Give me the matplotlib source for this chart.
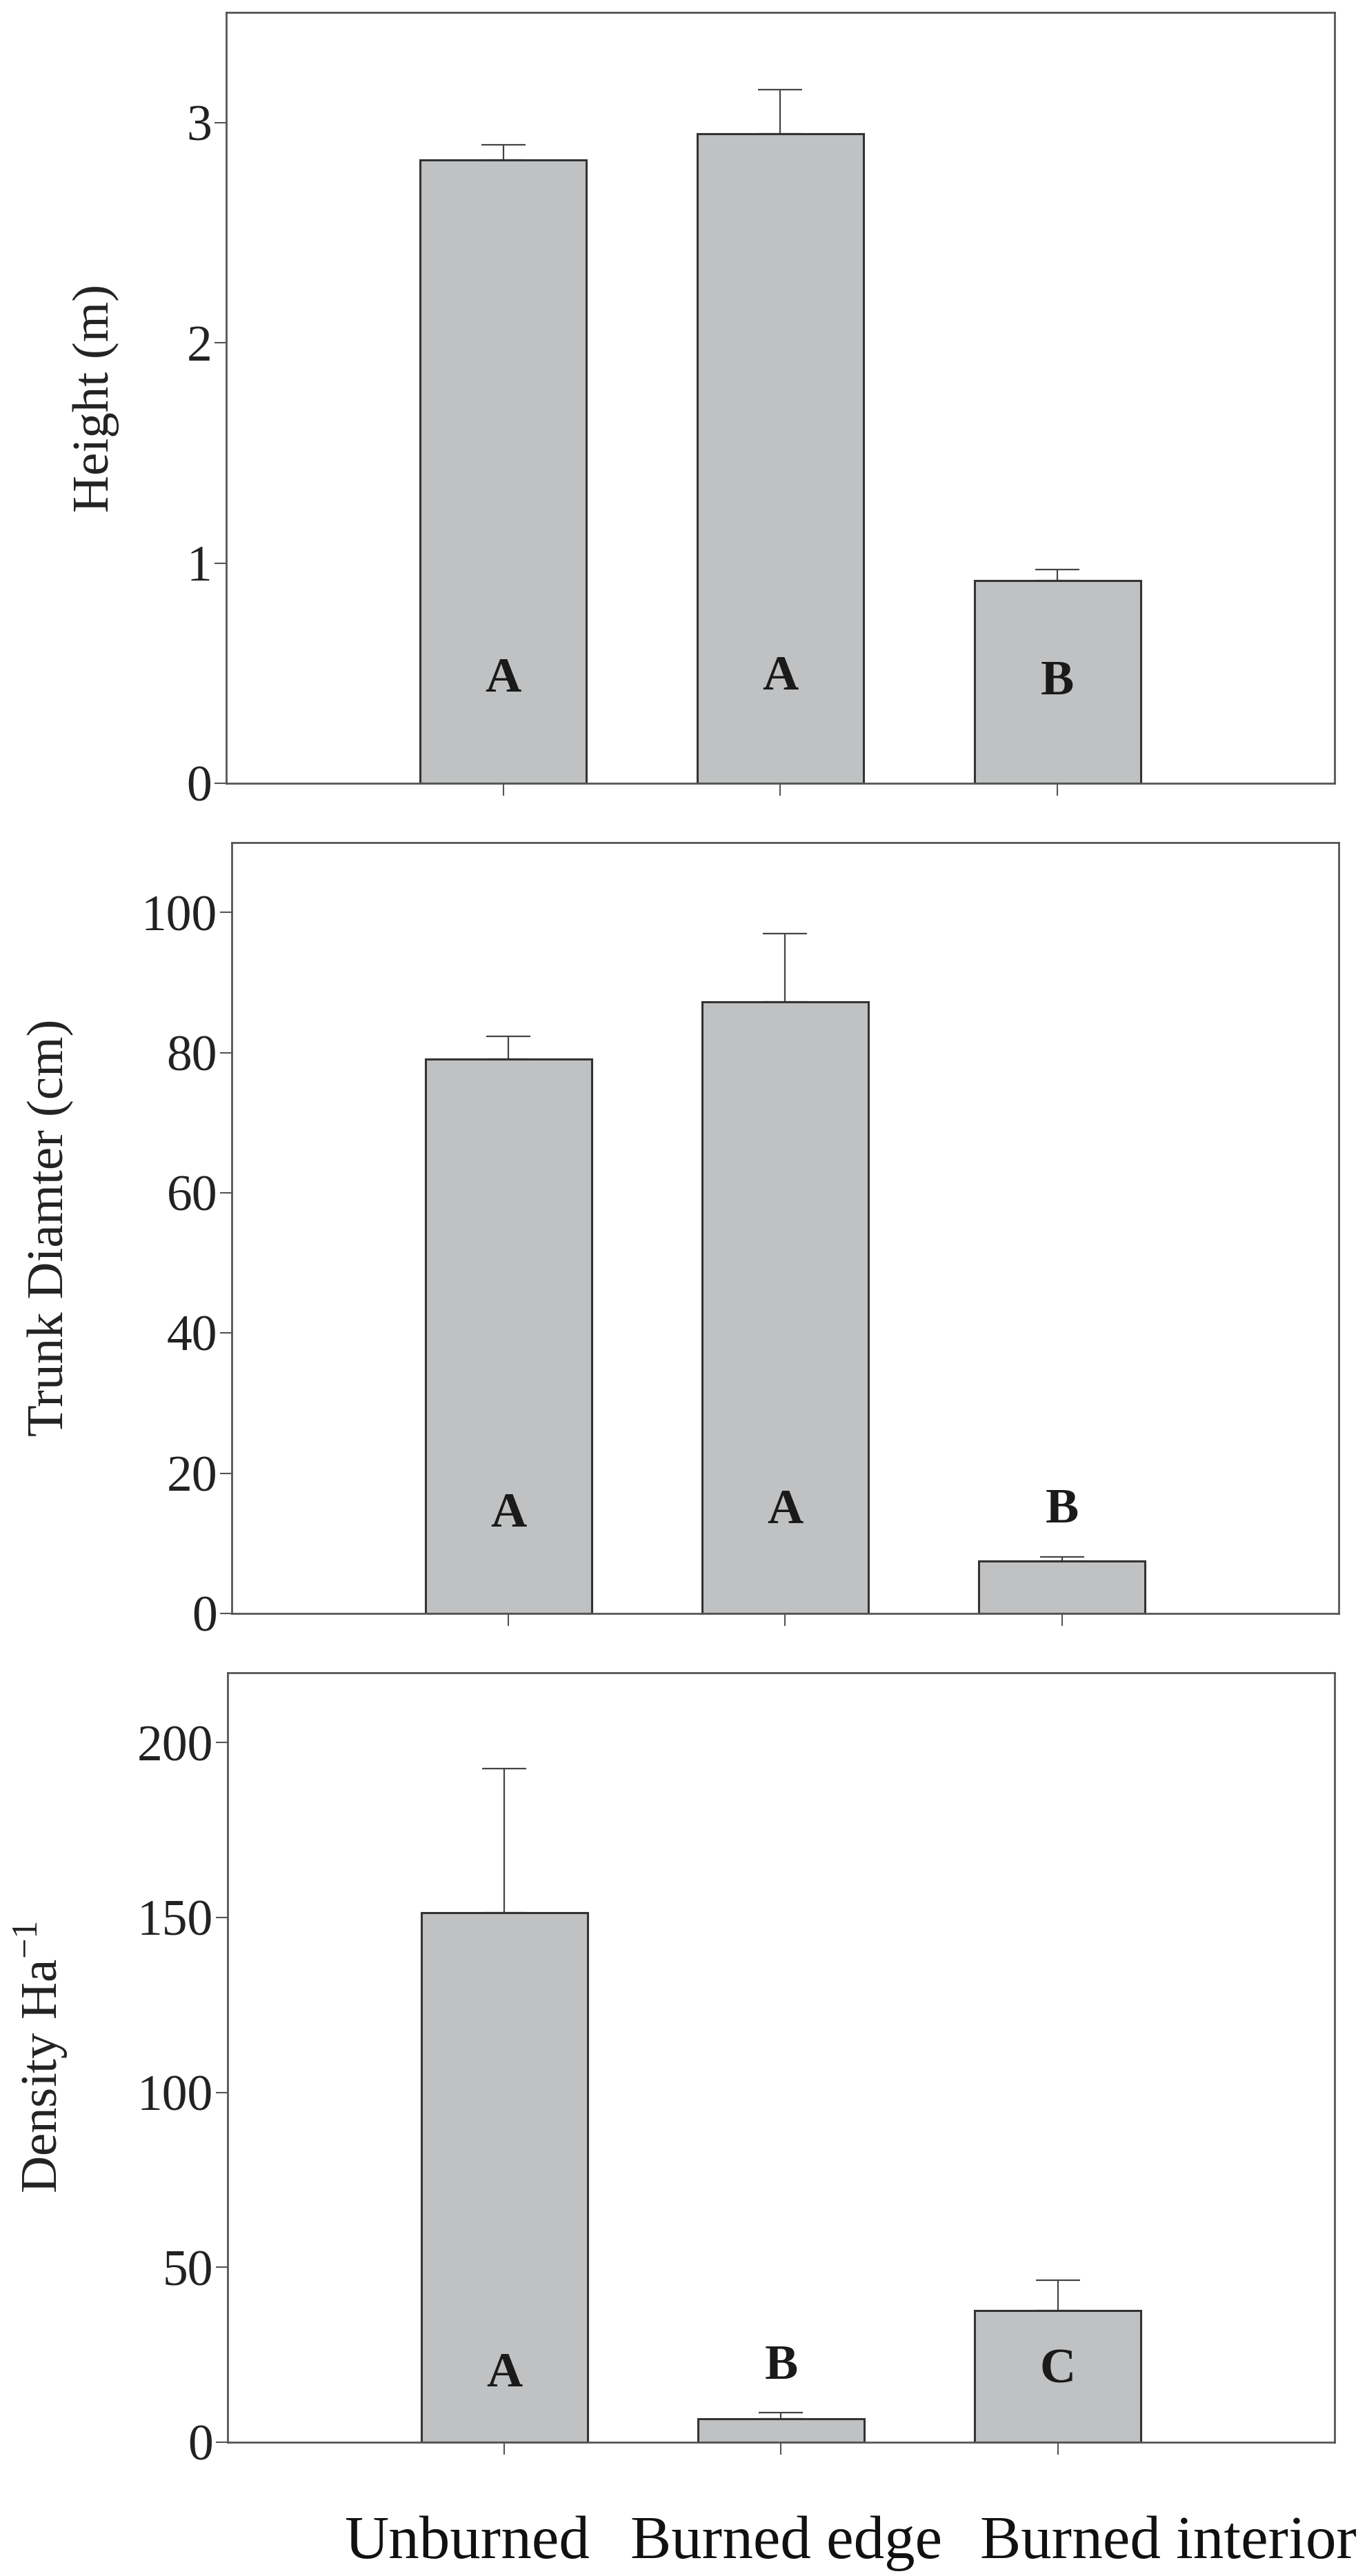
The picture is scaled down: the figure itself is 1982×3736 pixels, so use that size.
import matplotlib
matplotlib.use("Agg")
import matplotlib.pyplot as plt
import matplotlib.transforms as mtrans

plt.rcParams['font.family'] = ['Liberation Serif', 'DejaVu Serif']
plt.rcParams['mathtext.fontset'] = 'custom'
plt.rcParams['mathtext.rm'] = 'Liberation Serif'

# data
sites = ['Unburned', 'Burned edge', 'Burned interior']
height = [2.83, 2.95, 0.92]
height_se = [0.07, 0.20, 0.05]
height_grp = ['A', 'A', 'B']
height_lab_y = [0.47, 0.48, 0.46]

diam = [79.1, 87.2, 7.5]
diam_se = [3.2, 9.8, 0.6]
diam_grp = ['A', 'A', 'B']
diam_lab_y = [14.1, 14.6, 14.7]

dens = [151.3, 6.8, 37.7]
dens_se = [41.3, 1.6, 8.7]
dens_grp = ['A', 'B', 'C']
dens_lab_y = [19.4, 21.6, 20.5]

xpos = [1, 2, 3]
sitelab_x = [0.865, 2.02, 3.40]

bar_col = '#c0c1c2'
edge_col = '#333333'
spine_col = '#555555'

fig = plt.figure(figsize=(19.83, 37.36), dpi=100)
ax1 = fig.add_axes([0.1654, 0.6959, 0.8104, 0.2993])
ax2 = fig.add_axes([0.1694, 0.3737, 0.8094, 0.2993])
ax3 = fig.add_axes([0.1664, 0.0519, 0.8094, 0.2988])

panels = [
    (ax1, height, height_se, height_grp, height_lab_y, 3.5, [0, 1, 2, 3], 'Height (m)'),
    (ax2, diam, diam_se, diam_grp, diam_lab_y, 110, [0, 20, 40, 60, 80, 100], 'Trunk Diamter (cm)'),
    (ax3, dens, dens_se, dens_grp, dens_lab_y, 220, [0, 50, 100, 150, 200], 'Density Ha$^{\\mathrm{-1}}$'),
]

for ax, vals, se, grp, laby, ymax, yt, ylab in panels:
    ax.bar(xpos, vals, width=0.6, color=bar_col, edgecolor=edge_col, linewidth=2.2, zorder=2)
    ax.errorbar(xpos, vals, yerr=[[0, 0, 0], se], fmt='none', ecolor='#444444',
                elinewidth=1.6, capsize=23, capthick=1.6, zorder=1)
    for x, g, y in zip(xpos, grp, laby):
        ax.text(x, y, g, ha='center', va='center', fontsize=52, fontweight='bold',
                color='#1a1a1a', zorder=3)
    ax.set_xlim(0, 4)
    ax.set_ylim(0, ymax)
    ax.set_yticks(yt)
    ax.set_yticklabels([str(v) for v in yt])
    ax.set_xticks(xpos)
    ax.set_xticklabels([])
    ax.tick_params(axis='y', direction='out', length=12, width=1.5, labelsize=53,
                   colors='#222222', pad=3)
    ax.tick_params(axis='x', direction='out', length=13, width=1.5, colors=spine_col)
    ax.tick_params(axis='y', color=spine_col)
    for s in ax.spines.values():
        s.set_color(spine_col)
        s.set_linewidth(2.0)
    ax.set_ylabel(ylab, fontsize=54, color='#222222', labelpad=70)

tr = mtrans.blended_transform_factory(ax3.transData, ax3.transAxes)
for x, name in zip(sitelab_x, sites):
    ax3.text(x, -0.150, name, transform=tr, ha='center', va='baseline',
             fontsize=64, color='#111111', clip_on=False)

fig.savefig('out.png', dpi=100)
